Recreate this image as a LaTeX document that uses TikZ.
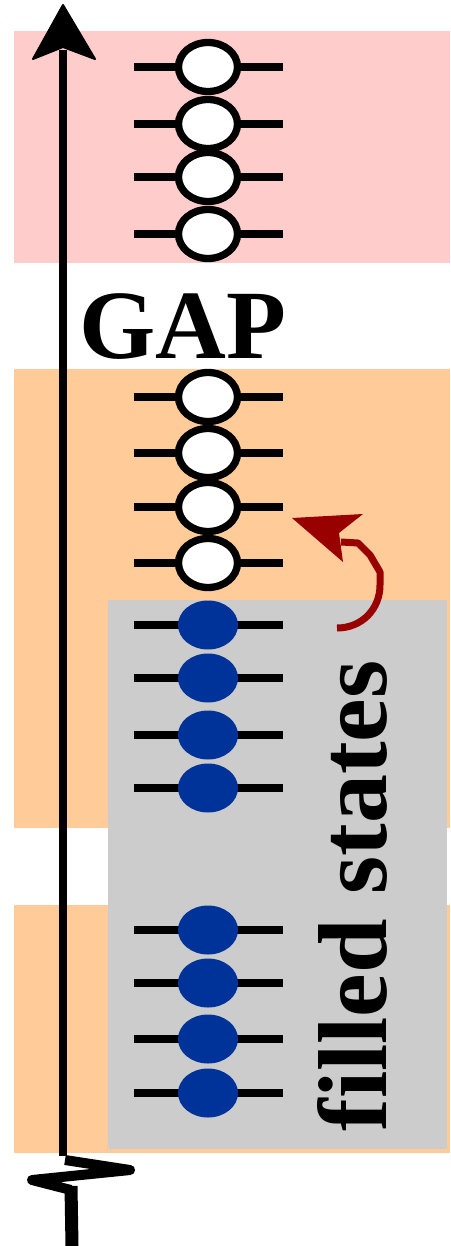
\documentclass[tikz,border=0pt]{standalone}
\usepackage{fontspec}
\setmainfont{Liberation Serif}
\usetikzlibrary{shapes.geometric}
\definecolor{condband}{HTML}{FFCCCC}
\definecolor{valband}{HTML}{FFCC99}
\definecolor{fillgray}{HTML}{CCCCCC}
\definecolor{electron}{HTML}{003399}
\definecolor{darkred}{HTML}{990000}
\tikzset{
  level/.style={line width=7.5pt},
  openstate/.style={ellipse, draw, line width=7.3pt, fill=white,
    minimum width=59pt, minimum height=49pt, inner sep=0pt},
  fullstate/.style={ellipse, fill=electron, draw=none,
    minimum width=60pt, minimum height=49pt, inner sep=0pt},
  bigtext/.style={font=\bfseries\fontsize{98}{100}\selectfont, inner sep=0pt},
}
\begin{document}
\begin{tikzpicture}[x=1pt,y=-1pt]
\useasboundingbox (0,0) rectangle (450,1246);
% energy bands
\fill[condband] (14,31) rectangle (450,263);
\fill[valband] (14,369) rectangle (450,828);
\fill[valband] (14,905) rectangle (450,1153);
\fill[fillgray] (108,600) rectangle (447,1149);
% energy axis
\coordinate (axtop) at (63,50);
\coordinate (axbot) at (63,1156);
\draw[line width=8pt] (axbot) -- (axtop);
\fill[line join=round, draw, line width=2pt] (63,5) -- (95,59) -- (63,47) -- (33,59) -- cycle;
% axis break
\draw[line width=10pt, line join=round] (65,1160) -- (130,1170) -- (32,1180) -- (71,1190);
\draw[line width=13pt] (71,1186) -- (72,1246);
% empty states
\foreach \y [count=\i] in {67,124,177,234,397,453,507,563} {
  \draw[level] (134,\y) -- (283,\y);
  \node[openstate] (e\i) at (208,\y) {};
}
% filled states
\foreach \y [count=\i] in {625,678,735,788,930,983,1039,1093} {
  \draw[level] (134,\y) -- (283,\y);
  \node[fullstate] (f\i) at (208,\y) {};
}
% labels
\node[bigtext, anchor=base west] (gap) at (79,358) {GAP};
\node[bigtext, rotate=90, anchor=base] (filled) at (386,896) {filled states};
% excitation arrow
\coordinate (exfrom) at (337,628);
\coordinate (exto) at (341,542);
\draw[darkred, line width=7pt, line join=round]
  (exfrom) .. controls (362,628) and (380,609) .. (380,585)
  -- (380,572) -- (370,555) -- (358,543) -- (exto);
\fill[darkred] (292,518) -- (363,514) -- (339,533) -- (343,562) -- cycle;
\end{tikzpicture}
\end{document}
